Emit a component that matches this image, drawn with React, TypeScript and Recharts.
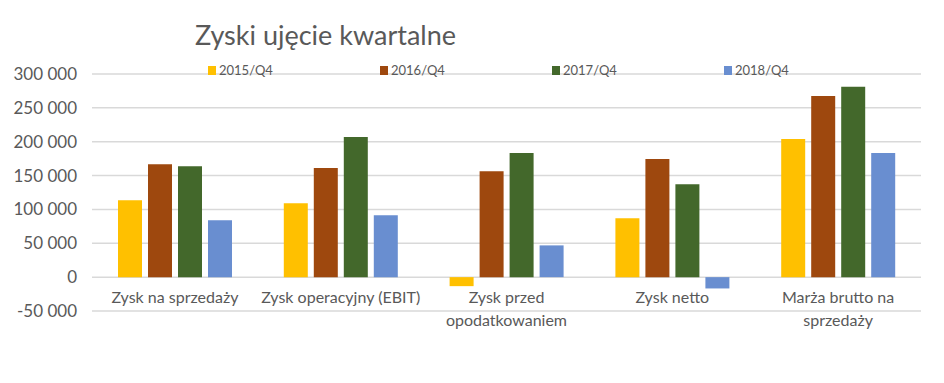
import { Bar, BarChart, CartesianGrid, XAxis, YAxis } from 'recharts';

const categories = ['Zysk na sprzedaży', 'Zysk operacyjny (EBIT)', 'Zysk przed opodatkowaniem', 'Zysk netto', 'Marża brutto na sprzedaży'];
const categoryLines = [['Zysk na sprzedaży'], ['Zysk operacyjny (EBIT)'], ['Zysk przed', 'opodatkowaniem'], ['Zysk netto'], ['Marża brutto na', 'sprzedaży']];
const q2015 = [113600, 109100, -13300, 86900, 203900];
const q2016 = [166900, 161000, 156500, 174300, 267600];
const q2017 = [163900, 206800, 183200, 137300, 281000];
const q2018 = [84000, 91400, 46900, -16700, 183200];
const yTicks = [-50000, 0, 50000, 100000, 150000, 200000, 250000, 300000];

const series = [
  { key: 'q2015', name: '2015/Q4', color: '#FFC000' },
  { key: 'q2016', name: '2016/Q4', color: '#9E480E' },
  { key: 'q2017', name: '2017/Q4', color: '#43682B' },
  { key: 'q2018', name: '2018/Q4', color: '#698ED0' },
];

const chartData = categories.map((name, i) => ({
  name,
  q2015: q2015[i],
  q2016: q2016[i],
  q2017: q2017[i],
  q2018: q2018[i],
}));

const FONT = 'Lato, "Open Sans", sans-serif';
const TEXT = '#595959';

function CategoryTick({ x, index }: any) {
  const lines = categoryLines[index] ?? [];
  return (
    <g>
      {lines.map((line, i) => (
        <text key={i} x={x} y={303 + i * 23} textAnchor="middle" fill={TEXT} fontSize={16} fontFamily={FONT}>
          {line}
        </text>
      ))}
    </g>
  );
}

const formatTick = (v: number) => (v < 0 ? '-' : '') + Math.abs(v).toLocaleString('en-US').replace(/,/g, ' ');

export default function App() {
  return (
    <div style={{ position: 'absolute', left: 0, top: 0, width: 944, height: 383, background: '#fff' }}>
      <div style={{ position: 'absolute', left: 195, top: 17, fontFamily: FONT, fontSize: 27, color: TEXT, lineHeight: '36px' }}>
        Zyski ujęcie kwartalne
      </div>
      <BarChart
        width={944}
        height={383}
        data={chartData}
        margin={{ top: 74, right: 23, bottom: 0, left: 0 }}
        barGap={6}
        barSize={24}
      >
        <CartesianGrid vertical={false} stroke="#D9D9D9" strokeWidth={1.5} />
        <XAxis dataKey="name" axisLine={false} tickLine={false} tick={<CategoryTick />} interval={0} height={72} />
        <YAxis
          width={92}
          domain={[-50000, 300000]}
          ticks={yTicks}
          interval={0}
          axisLine={false}
          tickLine={false}
          tickMargin={9}
          tickFormatter={formatTick}
          tick={{ fill: TEXT, fontSize: 17, fontFamily: FONT }}
        />
        {series.map((s) => (
          <Bar key={s.key} dataKey={s.key} name={s.name} fill={s.color} isAnimationActive={false} />
        ))}
      </BarChart>
      <div style={{ position: 'absolute', left: 208, top: 62, display: 'flex', fontFamily: FONT, fontSize: 13, color: TEXT }}>
        {series.map((s) => (
          <div key={s.key} style={{ width: 172, display: 'flex', alignItems: 'center' }}>
            <span style={{ width: 8, height: 9, background: s.color, marginRight: 3, display: 'inline-block' }} />
            {s.name}
          </div>
        ))}
      </div>
    </div>
  );
}
